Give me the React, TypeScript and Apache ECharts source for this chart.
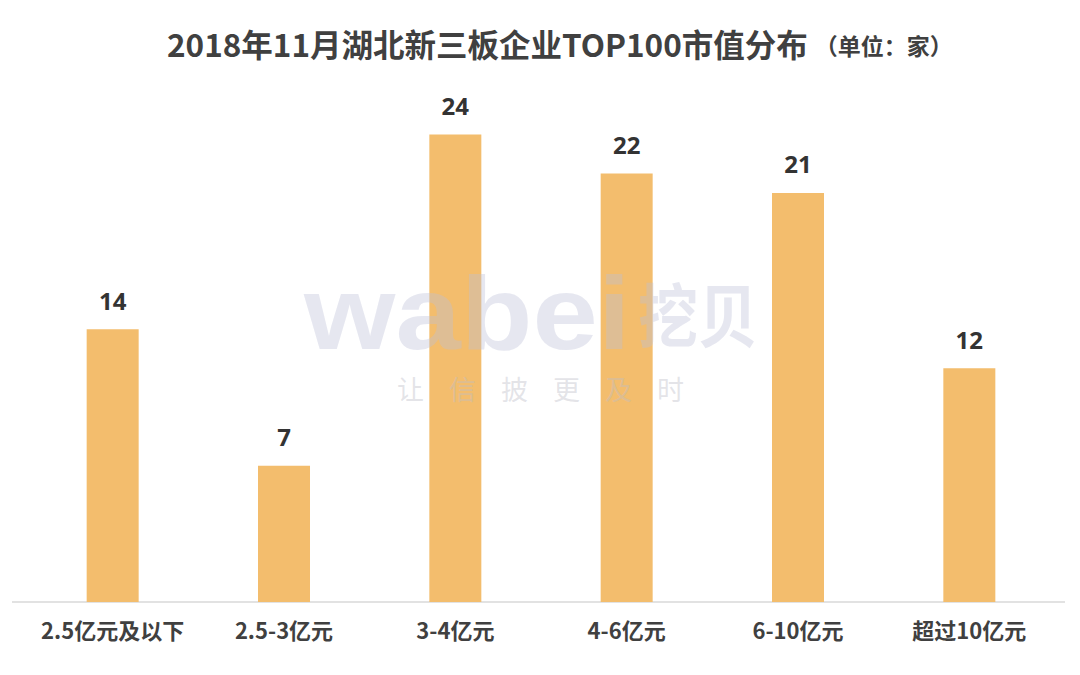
import React, { useEffect, useRef } from "react";
import * as echarts from "echarts";

const categories = ["2.5亿元及以下", "2.5-3亿元", "3-4亿元", "4-6亿元", "6-10亿元", "超过10亿元"];
const values = [14, 7, 24, 22, 21, 12];
const titleMain = "2018年11月湖北新三板企业TOP100市值分布";
const titleUnit = "（单位：家）";
const watermarkSlogan = ["让", "信", "披", "更", "及", "时"];

export default function App() {
  const ref = useRef<HTMLDivElement>(null);
  useEffect(() => {
    if (!ref.current) return;
    const chart = echarts.init(ref.current, null, { renderer: "svg" });
    const wmFill = "rgba(190,192,215,0.38)";
    const sloganEls = watermarkSlogan.map((ch, i) => ({
      type: "text",
      x: 397 + i * 52,
      y: 388,
      z: 100,
      style: {
        text: ch,
        fontSize: 27,
        fontFamily: "'Noto Sans CJK SC', sans-serif",
        fill: "rgba(190,190,200,0.42)",
        verticalAlign: "middle",
      },
    }));
    chart.setOption({
      animation: false,
      backgroundColor: "#ffffff",
      title: {
        text: `{a|${titleMain}}{b|${titleUnit}}`,
        left: 162,
        top: 22,
        textStyle: {
          rich: {
            a: { fontSize: 31.5, fontWeight: "bold", color: "#404040", fontFamily: "'Noto Sans CJK SC', sans-serif" },
            b: { fontSize: 23, color: "#404040", fontFamily: "'Noto Sans CJK SC', sans-serif", padding: [5, 0, 0, 7] },
          },
        },
      },
      grid: { left: 27, width: 1028, top: 115, bottom: 73, containLabel: false },
      xAxis: {
        type: "category",
        data: categories,
        axisLine: { show: false },
        axisTick: { show: false },
        axisLabel: {
          margin: 16,
          fontSize: 22,
          fontWeight: "bold",
          color: "#404040",
          fontFamily: "'Noto Sans CJK SC', sans-serif",
          interval: 0,
        },
      },
      yAxis: {
        type: "value",
        min: 0,
        max: 25,
        show: false,
        splitLine: { show: false },
      },
      series: [
        {
          type: "bar",
          data: values,
          barWidth: 52,
          itemStyle: { color: "#F3BD6D" },
          label: {
            show: true,
            position: "top",
            distance: 17,
            fontSize: 24,
            fontWeight: "bold",
            color: "#333333",
            fontFamily: "'Noto Sans', 'Noto Sans CJK SC', sans-serif",
          },
          z: 2,
        },
      ],
      graphic: [
        {
          type: "line",
          shape: { x1: 12, y1: 602, x2: 1065, y2: 602 },
          style: { stroke: "#d9d9d9", lineWidth: 1.5 },
          z: 1,
        },
        {
          type: "text",
          x: 304,
          y: 313,
          scaleX: 1.13,
          z: 100,
          style: {
            text: "wabei",
            fontSize: 104,
            fontWeight: "bold",
            fontFamily: "'Liberation Sans', Arial, sans-serif",
            fill: wmFill,
            verticalAlign: "middle",
          },
        },
        {
          type: "text",
          x: 638,
          y: 312,
          scaleY: 1.15,
          z: 100,
          style: {
            text: "挖贝",
            fontSize: 60,
            fontWeight: "bold",
            fontFamily: "'Noto Sans CJK SC', sans-serif",
            fill: wmFill,
            verticalAlign: "middle",
          },
        },
        ...sloganEls,
      ],
    });
    return () => chart.dispose();
  }, []);
  return (
    <div
      ref={ref}
      style={{ position: "fixed", left: 0, top: 0, width: 1080, height: 675, background: "#fff" }}
    />
  );
}
